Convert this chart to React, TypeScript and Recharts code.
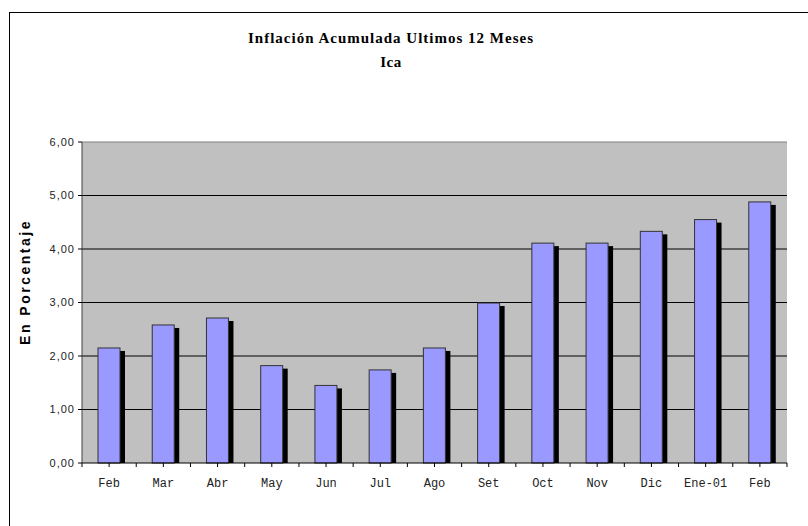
import React from 'react';
import { BarChart, Bar, XAxis, YAxis, CartesianGrid, ReferenceLine } from 'recharts';

const categories = ['Feb', 'Mar', 'Abr', 'May', 'Jun', 'Jul', 'Ago', 'Set', 'Oct', 'Nov', 'Dic', 'Ene-01', 'Feb'];
const values = [2.15, 2.58, 2.71, 1.82, 1.45, 1.74, 2.15, 2.99, 4.11, 4.11, 4.33, 4.55, 4.88];
const yTicks = [0, 1, 2, 3, 4, 5, 6];
const gridValues = [1, 2, 3, 4, 5];

const data = categories.map((c, i) => ({ key: `${c}-${i}`, label: c, value: values[i] }));

const W = 808;
const H = 526;
const M = { top: 142, right: 21, bottom: 33, left: 0 };
const Y_W = 82;
const X_H = 30;
const PLOT_W = W - Y_W - M.right;
const BAND = PLOT_W / categories.length;

const BarShape = (props: any) => {
  const { x, y, width, height } = props;
  if (height <= 0) return null;
  return (
    <g>
      <rect x={x + 5} y={y + 3} width={width} height={Math.max(0, height - 3)} fill="#000" />
      <rect x={x} y={y} width={width} height={height} fill="#9999FF" stroke="#333" strokeWidth={1} />
    </g>
  );
};

const XTick = (props: any) => {
  const { x, y, index, payload } = props;
  const label = categories[index] ?? payload.value;
  return (
    <g>
      <line x1={x} x2={x} y1={y} y2={y + 4} stroke="#000" />
      <line x1={x - BAND / 2} x2={x - BAND / 2} y1={y} y2={y + 4} stroke="#000" />
      {index === categories.length - 1 && (
        <line x1={x + BAND / 2} x2={x + BAND / 2} y1={y} y2={y + 4} stroke="#000" />
      )}
      <text x={x} y={y + 24} textAnchor="middle" fontFamily="'Liberation Mono', monospace" fontSize={12} fill="#222">
        {label}
      </text>
    </g>
  );
};

export default function App() {
  return (
    <div style={{ position: 'fixed', left: 0, top: 0, width: W, height: H, background: '#fff' }}>
      <div style={{ position: 'absolute', left: 9, top: 12, right: 0, bottom: 0, borderLeft: '1px solid #000', borderTop: '1px solid #000' }} />
      <div style={{ position: 'absolute', left: 0, top: 0 }}>
        <BarChart width={W} height={H} data={data} margin={M}>
          <CartesianGrid yAxisId="left" vertical={false} stroke="#000" fill="#C0C0C0" horizontalValues={gridValues} />
          <XAxis
            dataKey="key"
            height={X_H}
            tickSize={0}
            tickMargin={0}
            tickLine={false}
            axisLine={{ stroke: '#000' }}
            tick={<XTick />}
            interval={0}
          />
          <YAxis
            yAxisId="left"
            width={Y_W}
            domain={[0, 6]}
            ticks={yTicks}
            interval={0}
            tickSize={4}
            tickMargin={3}
            axisLine={{ stroke: '#404040' }}
            tickLine={{ stroke: '#000' }}
            tickFormatter={(v: number) => v.toFixed(2).replace('.', ',')}
            tick={{ fontSize: 11, fill: '#222', fontFamily: "'Liberation Sans', Arial, sans-serif", letterSpacing: 1 }}
          />
          <YAxis yAxisId="right" orientation="right" width={0} domain={[0, 6]} tick={false} tickLine={false} axisLine={{ stroke: '#808080' }} />
          <ReferenceLine yAxisId="left" y={6} stroke="#808080" />
          <Bar yAxisId="left" dataKey="value" barSize={22} shape={<BarShape />} isAnimationActive={false} />
          <text x={391} y={43} textAnchor="middle" fontFamily="'Liberation Serif', serif" fontWeight="bold" fontSize={15} letterSpacing={1} fill="#000">
            Inflación Acumulada Ultimos 12 Meses
          </text>
          <text x={391} y={67} textAnchor="middle" fontFamily="'Liberation Serif', serif" fontWeight="bold" fontSize={15} letterSpacing={0.5} fill="#000">
            Ica
          </text>
          <text
            x={30}
            y={282}
            transform="rotate(-90 30 282)"
            textAnchor="middle"
            fontFamily="'Liberation Sans', Arial, sans-serif"
            fontWeight="bold"
            fontSize={14}
            letterSpacing={2.5}
            fill="#000"
          >
            En Porcentaje
          </text>
        </BarChart>
      </div>
    </div>
  );
}
